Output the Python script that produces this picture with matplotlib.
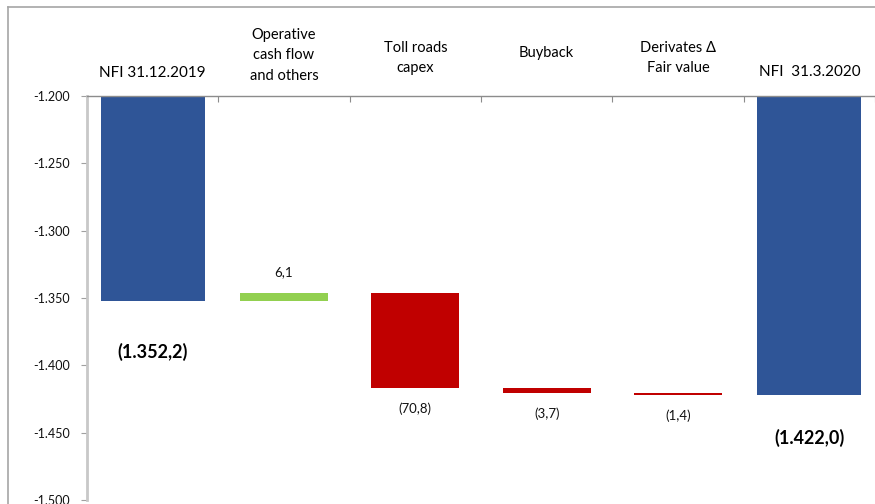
import matplotlib.pyplot as plt
from matplotlib.lines import Line2D
from matplotlib.ticker import FuncFormatter

plt.rcParams['font.family'] = ['Lato', 'DejaVu Sans']

categories = ["NFI 31.12.2019", "Operative\ncash flow\nand others", "Toll roads\ncapex",
              "Buyback", "Derivates Δ\nFair value", "NFI  31.3.2020"]
start_nfi = -1352.2
deltas = [6.1, -70.8, -3.7, -1.4]
end_nfi = -1422.0
label_heights = [1.057, 1.101, 1.094, 1.106, 1.094, 1.060]

blue = "#2F5597"
green = "#92D050"
red = "#C00000"

def eu(v, dec=1):
    s = f"{abs(v):,.{dec}f}"
    return s.replace(",", "X").replace(".", ",").replace("X", ".")

fig = plt.figure(figsize=(8.75, 5.04), dpi=100)
ax = fig.add_axes([87/875, 4/504, 788/875, 404/504])

base = -1200
# opening and closing totals hang from the top of the axis
ax.bar(0.5, start_nfi - base, bottom=base, width=0.79, color=blue)
ax.bar(5.5, end_nfi - base, bottom=base, width=0.79, color=blue)

# floating steps between the two totals
level = start_nfi
for i, d in enumerate(deltas):
    ax.bar(1.5 + i, d, bottom=level, width=0.67, color=green if d > 0 else red)
    if d > 0:
        ax.annotate(eu(d), (1.5 + i, level + d), xytext=(0, 15), textcoords="offset points",
                    ha="center", va="center", fontsize=9.5, color="#111111")
    else:
        ax.annotate("(" + eu(d) + ")", (1.5 + i, level + d), xytext=(0, -15), textcoords="offset points",
                    ha="center", va="center", fontsize=9.5, color="#111111")
    level += d

ax.annotate("(" + eu(start_nfi) + ")", (0.5, start_nfi), xytext=(0, -37), textcoords="offset points",
            ha="center", va="center", fontsize=13, fontweight="bold", color="#000000")
ax.annotate("(" + eu(end_nfi) + ")", (5.5, end_nfi), xytext=(0, -31), textcoords="offset points",
            ha="center", va="center", fontsize=13, fontweight="bold", color="#000000")

for i, (c, h) in enumerate(zip(categories, label_heights)):
    fs = 11 if c.startswith("NFI") else 10.5
    ax.text(0.5 + i, h, c, transform=ax.get_xaxis_transform(), ha="center", va="center",
            fontsize=fs, linespacing=1.6, color="#000000")

ax.set_xlim(0, 6)
ax.set_ylim(-1500, -1200)
ax.set_yticks(range(-1500, -1199, 50))
ax.yaxis.set_major_formatter(FuncFormatter(lambda v, p: "-" + eu(v, 0) if v < 0 else eu(v, 0)))
ax.tick_params(axis="y", direction="out", length=4, color="#a0a0a0", labelsize=9, labelcolor="#111111", pad=8)

ax.xaxis.tick_top()
ax.set_xticks(range(0, 7))
ax.set_xticklabels([])
ax.tick_params(axis="x", direction="in", length=4, color="#8c8c8c")

ax.spines["right"].set_visible(False)
ax.spines["bottom"].set_visible(False)
ax.spines["top"].set_color("#8c8c8c")
ax.spines["top"].set_linewidth(1.0)
ax.spines["left"].set_color("#c8c8c8")
ax.spines["left"].set_linewidth(2.0)

# outer chart frame
fx, fy = 8/875, 1 - 7/504
fig.add_artist(Line2D([fx, fx], [0, fy], color="#a6a6a6", lw=1.2))
fig.add_artist(Line2D([fx, 1], [fy, fy], color="#a6a6a6", lw=1.2))

fig.savefig("out.png", dpi=100)
